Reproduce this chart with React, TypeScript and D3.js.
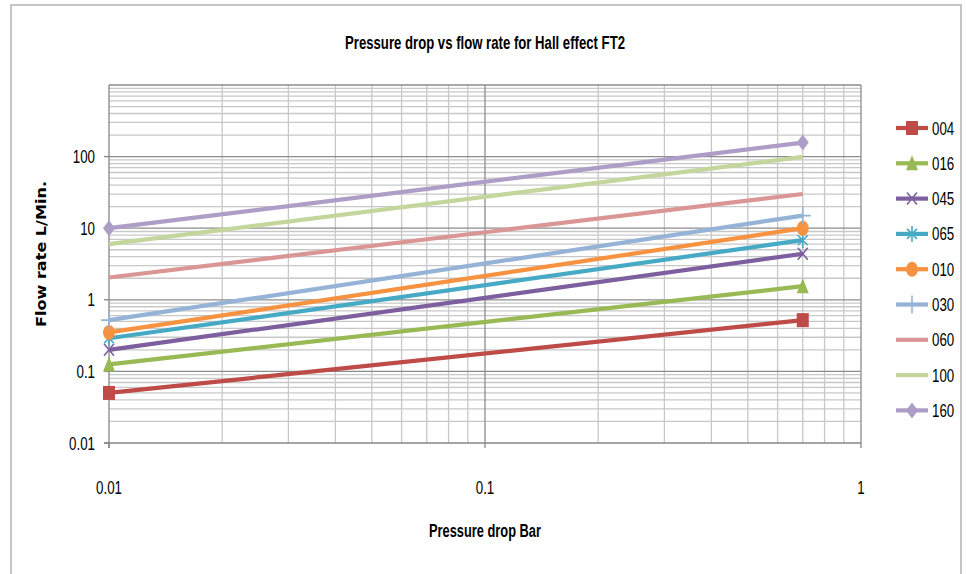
import React from "react";
import * as d3 from "d3";

const pressureDrop = [0.01, 0.7];
const seriesNames = ["004", "016", "045", "065", "010", "030", "060", "100", "160"];
const flow004 = [0.05, 0.52];
const flow016 = [0.125, 1.55];
const flow045 = [0.2, 4.4];
const flow065 = [0.29, 6.8];
const flow010 = [0.35, 10];
const flow030 = [0.52, 15];
const flow060 = [2.05, 30];
const flow100 = [6, 99];
const flow160 = [10, 157];
const seriesValues = [flow004, flow016, flow045, flow065, flow010, flow030, flow060, flow100, flow160];
const seriesColors = ["#BE4B48", "#98B954", "#7D5FA0", "#46AAC5", "#F69240", "#95B3D7", "#D99694", "#C3D69B", "#AE9DC6"];
const seriesMarkers = ["square", "triangle", "x", "star", "circle", "plus", "none", "none", "diamond"];
const xTickValues = [0.01, 0.1, 1];
const xTickLabels = ["0.01", "0.1", "1"];
const yTickValues = [0.01, 0.1, 1, 10, 100];
const yTickLabels = ["0.01", "0.1", "1", "10", "100"];

const sans = "'Liberation Sans', Arial, sans-serif";
const SX = 0.74;

function Marker({ type, x, y, color }: { type: string; x: number; y: number; color: string }) {
  const s = 6;
  switch (type) {
    case "square":
      return <rect x={x - s} y={y - s - 1} width={2 * s} height={2 * s + 2} fill={color} />;
    case "triangle":
      return <path d={`M${x},${y - s - 2}L${x + s},${y + s + 1}L${x - s},${y + s + 1}Z`} fill={color} />;
    case "x":
      return (
        <path d={`M${x - 5},${y - 6}L${x + 5},${y + 6}M${x - 5},${y + 6}L${x + 5},${y - 6}`} stroke={color} strokeWidth={1.6} />
      );
    case "star":
      return (
        <path
          d={`M${x - 5},${y - 5}L${x + 5},${y + 5}M${x - 5},${y + 5}L${x + 5},${y - 5}M${x},${y - 8}L${x},${y + 8}`}
          stroke={color}
          strokeWidth={1.6}
        />
      );
    case "circle":
      return <ellipse cx={x} cy={y} rx={6} ry={7.5} fill={color} />;
    case "plus":
      return <path d={`M${x},${y - 9}L${x},${y + 9}M${x - 8},${y}L${x + 8},${y}`} stroke={color} strokeWidth={1.6} />;
    case "diamond":
      return <path d={`M${x},${y - 8}L${x + 6},${y}L${x},${y + 8}L${x - 6},${y}Z`} fill={color} />;
    default:
      return null;
  }
}

function NText({ x, y, anchor, size, children }: { x: number; y: number; anchor: string; size: number; children: React.ReactNode }) {
  return (
    <text transform={`translate(${x},${y}) scale(${SX},1)`} textAnchor={anchor as any} fontFamily={sans} fontSize={size} fill="#000">
      {children}
    </text>
  );
}

export default function App() {
  const left = 109,
    right = 861,
    top = 85,
    bottom = 443;
  const x = d3.scaleLog().domain([0.01, 1]).range([left, right]);
  const y = d3.scaleLog().domain([0.01, 1000]).range([bottom, top]);

  const xMinor: number[] = [];
  const yMinor: number[] = [];
  for (let dec = -2; dec < 0; dec++) for (let m = 2; m <= 9; m++) xMinor.push(m * Math.pow(10, dec));
  for (let dec = -2; dec < 3; dec++) for (let m = 2; m <= 9; m++) yMinor.push(m * Math.pow(10, dec));
  const xMajor = [0.1, 1];
  const yMajor = [0.1, 1, 10, 100, 1000];

  const line = d3
    .line<number>()
    .x((_, i) => x(pressureDrop[i]))
    .y((d) => y(d));

  const legendY = (i: number) => 128 + i * 35.3;

  return (
    <svg width={966} height={574} style={{ position: "absolute", left: 0, top: 0, background: "#fff" }}>
      <rect x={11} y={5} width={950} height={600} fill="#fff" stroke="#b3b3b3" strokeWidth={1.5} />
      {yMinor.map((v, i) => (
        <line key={"ym" + i} x1={left} x2={right} y1={y(v)} y2={y(v)} stroke="#c8c8c8" strokeWidth={1.3} />
      ))}
      {xMinor.map((v, i) => (
        <line key={"xm" + i} x1={x(v)} x2={x(v)} y1={top} y2={bottom} stroke="#c8c8c8" strokeWidth={1.3} />
      ))}
      {yMajor.map((v, i) => (
        <line key={"yM" + i} x1={left} x2={right} y1={y(v)} y2={y(v)} stroke="#8c8c8c" strokeWidth={1.3} />
      ))}
      {xMajor.map((v, i) => (
        <line key={"xM" + i} x1={x(v)} x2={x(v)} y1={top} y2={bottom} stroke="#8c8c8c" strokeWidth={1.3} />
      ))}
      <line x1={left} x2={left} y1={top} y2={bottom + 5} stroke="#868686" strokeWidth={1.3} />
      <line x1={left - 5} x2={right} y1={bottom} y2={bottom} stroke="#868686" strokeWidth={1.3} />
      {yTickValues.map((v, i) => (
        <g key={"yt" + i}>
          <line x1={left - 5} x2={left} y1={y(v)} y2={y(v)} stroke="#868686" strokeWidth={1.3} />
          <NText x={95} y={y(v) + 6.5} anchor="end" size={18}>
            {yTickLabels[i]}
          </NText>
        </g>
      ))}
      {xTickValues.map((v, i) => (
        <g key={"xt" + i}>
          <line x1={x(v)} x2={x(v)} y1={bottom} y2={bottom + 5} stroke="#868686" strokeWidth={1.3} />
          <NText x={x(v)} y={494} anchor="middle" size={18}>
            {xTickLabels[i]}
          </NText>
        </g>
      ))}
      {seriesValues.map((vals, i) => (
        <g key={"s" + i}>
          <path d={line(vals) || ""} fill="none" stroke={seriesColors[i]} strokeWidth={4.2} />
          {vals.map((v, j) => (
            <Marker key={j} type={seriesMarkers[i]} x={x(pressureDrop[j])} y={y(v)} color={seriesColors[i]} />
          ))}
        </g>
      ))}
      {seriesNames.map((name, i) => (
        <g key={"l" + i}>
          <line x1={896} x2={928} y1={legendY(i)} y2={legendY(i)} stroke={seriesColors[i]} strokeWidth={4.2} />
          <Marker type={seriesMarkers[i]} x={912} y={legendY(i)} color={seriesColors[i]} />
          <NText x={932} y={legendY(i) + 6.5} anchor="start" size={18}>
            {name}
          </NText>
        </g>
      ))}
      <text
        x={485}
        y={49}
        textAnchor="middle"
        fontFamily={sans}
        fontWeight="bold"
        fontSize={18}
        textLength={280}
        lengthAdjust="spacingAndGlyphs"
        fill="#000"
      >
        Pressure drop vs flow rate for Hall  effect FT2
      </text>
      <text
        x={485}
        y={537}
        textAnchor="middle"
        fontFamily={sans}
        fontWeight="bold"
        fontSize={18}
        textLength={112}
        lengthAdjust="spacingAndGlyphs"
        fill="#000"
      >
        Pressure drop Bar
      </text>
      <text
        transform="translate(46,254) rotate(-90)"
        textAnchor="middle"
        fontFamily="'DejaVu Sans', sans-serif"
        fontWeight="bold"
        fontSize={14}
        textLength={146}
        lengthAdjust="spacingAndGlyphs"
        fill="#000"
      >
        Flow rate L/Min.
      </text>
    </svg>
  );
}
